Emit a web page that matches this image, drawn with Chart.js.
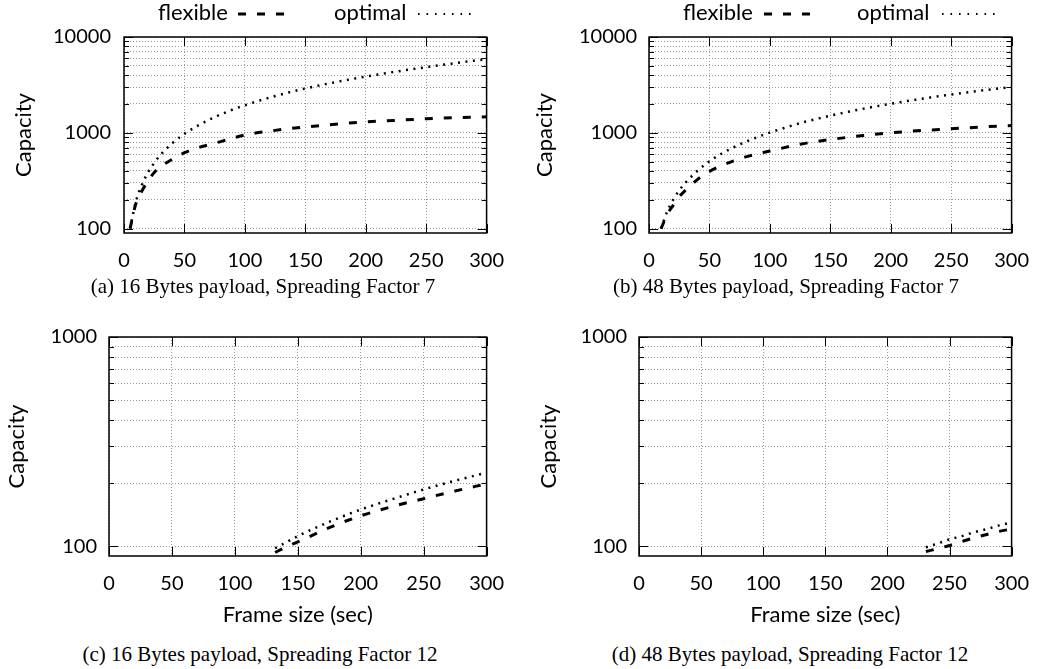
<!DOCTYPE html>
<html><head><meta charset="utf-8">
<script src="https://cdn.jsdelivr.net/npm/chart.js@4.4.1/dist/chart.umd.min.js"></script>
<style>
html,body{margin:0;padding:0;background:#fff;}
body{width:1045px;height:669px;position:relative;overflow:hidden;font-family:Lato,sans-serif;}
canvas{position:absolute;}
.cap{position:absolute;font-family:"Liberation Serif","Times New Roman",serif;font-size:21px;line-height:21px;color:#000;white-space:nowrap;transform:translateX(-50%);}
.leg{position:absolute;font-family:Lato,sans-serif;font-size:22px;line-height:24px;color:#000;white-space:nowrap;}
svg{position:absolute;}
</style></head><body>
<canvas id="cA" width="520" height="276" style="left:0;top:0"></canvas>
<canvas id="cB" width="525" height="276" style="left:520px;top:0"></canvas>
<canvas id="cC" width="520" height="332" style="left:0;top:300px"></canvas>
<canvas id="cD" width="525" height="332" style="left:520px;top:300px"></canvas>

<div class="leg" style="left:158px;top:0">flexible</div>
<svg width="60" height="10" style="left:236px;top:9px"><line x1="2" y1="5" x2="51" y2="5" stroke="#000" stroke-width="3" stroke-dasharray="8,11"/></svg>
<div class="leg" style="left:334px;top:0">optimal</div>
<svg width="60" height="10" style="left:417px;top:9px"><line x1="1" y1="5" x2="56" y2="5" stroke="#000" stroke-width="2" stroke-dasharray="1.6,6.9"/></svg>

<div class="leg" style="left:683px;top:0">flexible</div>
<svg width="60" height="10" style="left:762px;top:9px"><line x1="2" y1="5" x2="51" y2="5" stroke="#000" stroke-width="3" stroke-dasharray="8,11"/></svg>
<div class="leg" style="left:857px;top:0">optimal</div>
<svg width="60" height="10" style="left:941px;top:9px"><line x1="1" y1="5" x2="56" y2="5" stroke="#000" stroke-width="2" stroke-dasharray="1.6,6.9"/></svg>

<div class="cap" style="left:263px;top:276px">(a) 16 Bytes payload, Spreading Factor 7</div>
<div class="cap" style="left:786px;top:276px">(b) 48 Bytes payload, Spreading Factor 7</div>
<div class="cap" style="left:260px;top:644px">(c) 16 Bytes payload, Spreading Factor 12</div>
<div class="cap" style="left:790px;top:644px">(d) 48 Bytes payload, Spreading Factor 12</div>

<script>
// ---- data ----
const xTickLabels = [0, 50, 100, 150, 200, 250, 300];
const yLabelsTop = [100, 1000, 10000];
const yLabelsBottom = [100, 1000];
const yGridTop = [100,200,300,400,500,600,700,800,900,1000,2000,3000,4000,5000,6000,7000,8000,9000,10000];
const yGridBottom = [100,200,300,400,500,600,700,800,900,1000];

const xA = [5,10,15,20,25,30,40,50,60,70,80,90,100,125,150,175,200,225,250,275,300];
const flexibleA = [100,185,250,315,385,440,530,620,690,750,810,880,950,1060,1150,1230,1300,1350,1400,1440,1470];
const optimalA = [100,195,290,390,485,585,780,975,1165,1360,1555,1750,1940,2420,2900,3380,3860,4350,4840,5350,5880];

const xB = [10,15,20,25,30,40,50,60,70,80,90,100,125,150,175,200,225,250,275,300];
const flexibleB = [100,140,175,215,250,325,395,455,510,560,605,645,760,850,930,1000,1055,1100,1150,1190];
const optimalB = [100,150,200,250,300,400,505,605,705,805,905,1005,1260,1510,1760,2010,2260,2510,2760,3010];

const xC = [132,140,150,175,200,225,250,275,300];
const flexibleC = [93.5,99,105,123,140,155,169,184,199];
const optimalC = [98,104,112,131,150,168,187,206,225];

const xD = [231,240,250,260,270,280,290,300];
const flexibleD = [94.5,97.5,101,105.5,110,114,118,121];
const optimalD = [99,103,108,112,117,121,126,130];

Chart.defaults.font.family = 'Lato, sans-serif';
Chart.defaults.color = '#000';

const framePlugin = {
  id: 'frame',
  afterDatasetsDraw(chart, args, opts) {
    const {ctx, chartArea: a, scales: {x, y}} = chart;
    const majors = opts.majors || [];
    ctx.save();
    ctx.strokeStyle = '#000';
    ctx.lineWidth = 1;
    ctx.setLineDash([]);
    ctx.beginPath();
    y.ticks.forEach(t => {
      const p = Math.round(y.getPixelForValue(t.value)) + 0.5;
      const len = majors.includes(t.value) ? 9 : 5;
      ctx.moveTo(a.left, p); ctx.lineTo(a.left + len, p);
      ctx.moveTo(a.right, p); ctx.lineTo(a.right - len, p);
    });
    x.ticks.forEach(t => {
      const p = Math.round(x.getPixelForValue(t.value)) + 0.5;
      ctx.moveTo(p, a.bottom); ctx.lineTo(p, a.bottom - 9);
      ctx.moveTo(p, a.top); ctx.lineTo(p, a.top + 9);
    });
    ctx.stroke();
    ctx.lineWidth = 1.5;
    ctx.strokeRect(a.left, a.top, a.right - a.left, a.bottom - a.top);
    ctx.restore();
  }
};

function makePanel(id, cfg) {
  const pts = (xs, ys) => xs.map((v, i) => ({x: v, y: ys[i]}));
  new Chart(document.getElementById(id), {
    type: 'line',
    data: {
      datasets: [
        {label: 'flexible', data: pts(cfg.xs, cfg.flex), borderColor: '#000', borderWidth: 3,
         borderDash: [8, 11], pointRadius: 0, cubicInterpolationMode: 'monotone', fill: false},
        {label: 'optimal', data: pts(cfg.xs, cfg.opt), borderColor: '#000', borderWidth: 2.5,
         borderDash: [2, 5.5], pointRadius: 0, cubicInterpolationMode: 'monotone', fill: false}
      ]
    },
    options: {
      responsive: false,
      animation: false,
      devicePixelRatio: 1,
      layout: {padding: {left: 0, top: cfg.area.t, right: cfg.W - cfg.area.r, bottom: 0}},
      plugins: {legend: {display: false}, tooltip: {enabled: false}, frame: {majors: cfg.labels}},
      scales: {
        x: {
          type: 'linear', min: 0, max: 300,
          afterBuildTicks: s => { s.ticks = xTickLabels.map(v => ({value: v})); },
          ticks: {font: {size: 20}, padding: cfg.xPad, autoSkip: false, maxRotation: 0,
                  callback: v => String(v)},
          grid: {color: '#9a9a9a', lineWidth: 1, drawTicks: false},
          border: {display: false, dash: [1, 2]},
          title: cfg.xTitle ? {display: true, text: 'Frame size (sec)', font: {size: 22},
                  padding: {top: 4, bottom: 4}} : {display: false},
          afterFit: s => { s.height = cfg.H - cfg.area.b; }
        },
        y: {
          type: 'logarithmic', min: 90, max: cfg.yMax,
          afterBuildTicks: s => { s.ticks = cfg.grid.map(v => ({value: v})); },
          ticks: {font: {size: 20}, padding: cfg.yPad, autoSkip: false,
                  callback: v => cfg.labels.includes(v) ? String(v) : ''},
          grid: {color: '#9a9a9a', lineWidth: 1, drawTicks: false},
          border: {display: false, dash: [1, 2]},
          title: {display: true, text: 'Capacity', font: {size: 22},
                  padding: {top: cfg.tPad, bottom: cfg.tPad}},
          afterFit: s => { s.width = cfg.area.l; }
        }
      }
    },
    plugins: [framePlugin]
  });
}

makePanel('cA', {W: 520, H: 276, area: {l: 124, r: 495, t: 37, b: 233}, yMax: 10000,
  grid: yGridTop, labels: yLabelsTop, xs: xA, flex: flexibleA, opt: optimalA,
  xPad: 16, yPad: 13, tPad: 11, xTitle: false});
makePanel('cB', {W: 525, H: 276, area: {l: 129, r: 498, t: 37, b: 233}, yMax: 10000,
  grid: yGridTop, labels: yLabelsTop, xs: xB, flex: flexibleB, opt: optimalB,
  xPad: 16, yPad: 12, tPad: 12, xTitle: false});
makePanel('cC', {W: 520, H: 332, area: {l: 109, r: 489, t: 37, b: 256}, yMax: 1000,
  grid: yGridBottom, labels: yLabelsBottom, xs: xC, flex: flexibleC, opt: optimalC,
  xPad: 16, yPad: 12, tPad: 4, xTitle: true});
makePanel('cD', {W: 525, H: 332, area: {l: 119, r: 498, t: 37, b: 256}, yMax: 1000,
  grid: yGridBottom, labels: yLabelsBottom, xs: xD, flex: flexibleD, opt: optimalD,
  xPad: 16, yPad: 12, tPad: 16, xTitle: true});
</script>
</body></html>
